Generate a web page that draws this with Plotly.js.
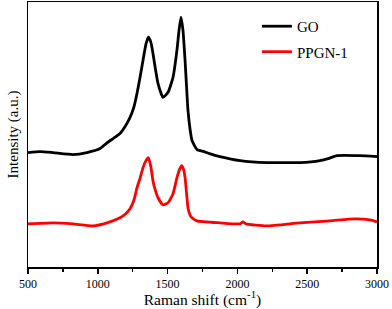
<!DOCTYPE html>
<html>
<head>
<meta charset="utf-8">
<script src="https://cdn.plot.ly/plotly-3.0.1.min.js"></script>
<style>html,body{margin:0;padding:0;background:#fff;}#chart{width:392px;height:309px;}</style>
</head>
<body>
<div id="chart"></div>
<script>
// Raman shift (cm^-1) and intensity (a.u.)
const goShift = [500, 586, 679, 822, 923, 1016, 1060, 1110, 1159, 1200, 1231, 1260, 1281, 1304, 1324, 1345, 1362, 1380, 1395, 1413, 1431, 1467, 1503, 1539, 1567, 1582, 1596, 1610, 1625, 1646, 1662, 1675, 1711, 1760, 1800, 1875, 2019, 2212, 2355, 2448, 2592, 2650, 2713, 2878, 3000];
const goInt   = [114, 115, 114, 112, 114, 118, 123, 128, 133, 141, 149, 160, 173, 190, 206, 222, 229, 224, 213, 197, 183, 169, 174, 189, 216, 236, 249, 236, 206, 156, 136, 126, 117, 115, 113, 110, 106, 104, 104, 104, 106, 108, 111, 111, 110];
const ppgnShift = [500, 679, 822, 966, 1066, 1159, 1200, 1231, 1260, 1281, 1304, 1324, 1345, 1362, 1380, 1395, 1413, 1431, 1467, 1503, 1539, 1567, 1585, 1600, 1615, 1625, 1636, 1646, 1660, 1675, 1711, 1875, 2019, 2040, 2060, 2212, 2448, 2663, 2842, 2950, 3000];
const ppgnInt   = [43, 44, 43, 41, 44, 49, 53, 58, 67, 79, 89, 99, 106, 109, 100, 86, 76, 69, 62, 64, 73, 89, 97, 101, 97, 89, 73, 59, 52, 49, 46, 44, 43, 45, 43, 41, 44, 46, 48, 47, 45];
const seriesNames = ["GO", "PPGN-1"];
const xTickVals = [500, 1000, 1500, 2000, 2500, 3000];

const FAM = "Liberation Serif";
const traces = [
  {x: goShift, y: goInt, name: seriesNames[0], legendgroup: "a", type: "scatter", mode: "lines",
   line: {color: "#000000", width: 2.8, shape: "spline", smoothing: 0.5}},
  {x: ppgnShift, y: ppgnInt, name: seriesNames[1], legendgroup: "b", type: "scatter", mode: "lines",
   line: {color: "#ff0000", width: 2.8, shape: "spline", smoothing: 0.5}}
];

const layout = {
  width: 392, height: 309,
  margin: {l: 28, r: 15, t: 2, b: 42, pad: 0},
  paper_bgcolor: "#fff", plot_bgcolor: "#fff",
  font: {family: FAM, size: 12, color: "#000"},
  showlegend: true,
  legend: {x: 0.656, y: 0.97, xanchor: "left", yanchor: "top", bgcolor: "rgba(0,0,0,0)",
           font: {family: FAM, size: 15, color: "#000"}, tracegroupgap: 3},
  xaxis: {
    range: [500, 3000], tickvals: xTickVals, ticktext: xTickVals.map(String),
    ticks: "outside", ticklen: 5, tickwidth: 1.5, tickcolor: "#000",
    minor: {dtick: 250, ticks: "outside", ticklen: 3, tickwidth: 1.5, tickcolor: "#000"},
    showline: true, linecolor: "#000", linewidth: 1.5, mirror: true,
    showgrid: false, zeroline: false,
    tickfont: {family: FAM, size: 12, color: "#000"},
    title: {text: "Raman shift (cm<sup>-1</sup>)", font: {family: FAM, size: 15.5, color: "#000"}, standoff: 3}
  },
  yaxis: {
    range: [0, 264], showticklabels: false, ticks: "",
    showline: true, linecolor: "#000", linewidth: 1.5, mirror: true,
    showgrid: false, zeroline: false,
    title: {text: "Intensity (a.u.)", font: {family: FAM, size: 15, color: "#000"}, standoff: 4}
  }
};
Plotly.newPlot("chart", traces, layout, {displayModeBar: false, staticPlot: true});
</script>
</body>
</html>
